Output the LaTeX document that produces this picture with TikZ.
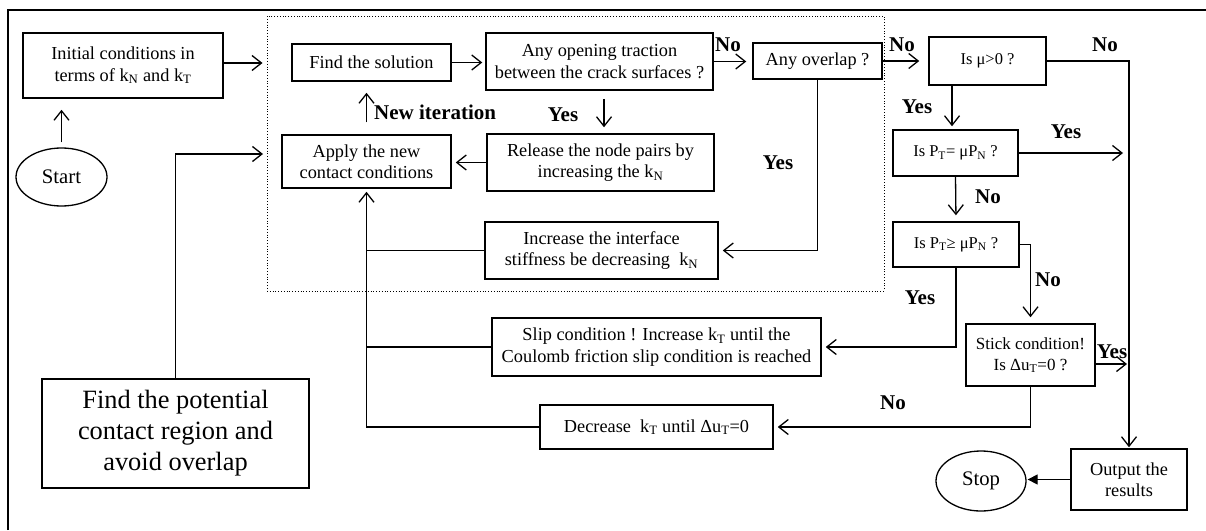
\documentclass[tikz,border=0pt]{standalone}
\usepackage{fontspec}
\setmainfont{Liberation Serif}
\usetikzlibrary{arrows.meta,shapes.geometric,calc}
\newcommand\mainfs{\fontsize{18.3}{21.5}\selectfont}
\newcommand\smallfs{\fontsize{16.5}{20}\selectfont}
\newcommand\bigfs{\fontsize{26.4}{31}\selectfont}
\newcommand\labfs{\fontsize{21}{24}\selectfont\bfseries}
\newcommand\ovfs{\fontsize{20.7}{24}\selectfont}
\begin{document}
\begin{tikzpicture}[x=1pt,y=-1pt,
  box/.style={draw, line width=1.5pt, inner sep=0pt, align=center, font=\mainfs},
  ovl/.style={draw, ellipse, line width=1.3pt, inner sep=0pt, font=\ovfs},
  arr/.style={-{Straight Barb[length=9.5pt,width=15pt]}, line width=1.3pt},
  con/.style={line width=1.3pt},
  lab/.style={font=\labfs, inner sep=0pt}]
\useasboundingbox (0,0) rectangle (1206,530);
% frame
\draw[line width=1.3pt] (8,530) -- (8,10) -- (1206,10);
% dotted loop region
\node[draw, line width=1pt, dash pattern=on 1pt off 1.8pt, inner sep=0pt,
      minimum width=617pt, minimum height=275pt] (loop) at (575.5,153.5) {};
% nodes
\node[box, minimum width=200pt, minimum height=65pt] (init) at (123,65.5)
  {Initial conditions in\\terms of k\textsubscript{N} and k\textsubscript{T}};
\node[ovl, minimum width=91pt, minimum height=58pt] (start) at (61.5,177) {Start};
\node[box, minimum width=159pt, minimum height=37pt] (find) at (371.5,62.5) {Find the solution};
\node[box, minimum width=227pt, minimum height=57pt] (open) at (599.5,61.5)
  {Any opening traction\\between the crack surfaces ?};
\node[box, minimum width=129pt, minimum height=36pt] (overlap) at (817.5,61) {Any overlap ?};
\node[box, font=\smallfs, minimum width=117pt, minimum height=48pt] (mu) at (987.5,61) {Is μ>0 ?};
\node[box, font=\smallfs, minimum width=125pt, minimum height=46pt] (pteq) at (955.5,153)
  {Is P\textsubscript{T}= μP\textsubscript{N} ?};
\node[box, font=\smallfs, minimum width=126pt, minimum height=45pt] (ptge) at (956,244.5)
  {Is P\textsubscript{T}≥ μP\textsubscript{N} ?};
\node[box, font=\fontsize{17}{21}\selectfont, minimum width=129pt, minimum height=62pt] (stick) at (1030.5,355)
  {Stick condition!\\Is Δu\textsubscript{T}=0 ?};
\node[box, minimum width=116pt, minimum height=61pt] (output) at (1129,479.5) {Output the\\results};
\node[ovl, minimum width=90pt, minimum height=60pt] (stop) at (981,481) {Stop};
\node[box, minimum width=227pt, minimum height=57pt] (release) at (600.5,162.5)
  {Release the node pairs by\\increasing the k\textsubscript{N}};
\node[box, minimum width=169pt, minimum height=53pt] (apply) at (366.5,161.5)
  {Apply the new\\contact conditions};
\node[box, minimum width=233pt, minimum height=57pt] (increase) at (601.5,250.5)
  {Increase the interface\\stiffness be decreasing~ k\textsubscript{N}};
\node[box, minimum width=329pt, minimum height=58pt] (slip) at (656.5,347)
  {Slip condition ! Increase k\textsubscript{T} until the\\Coulomb friction slip condition is reached};
\node[box, minimum width=233pt, minimum height=44pt] (decrease) at (656.5,427)
  {Decrease~ k\textsubscript{T} until Δu\textsubscript{T}=0};
\node[box, font=\bigfs, minimum width=267pt, minimum height=109pt] (potential) at (175.5,433.5)
  {Find the potential\\contact region and\\avoid overlap};
\coordinate (potin) at (267,154);
% connectors
\draw[arr, shorten <=5pt, shorten >=11pt] (start.north) -- (start.north |- init.south);
\draw[arr, shorten >=4pt] ($(init.east)+(0,-2.5)$) -- ($(init.east -| loop.west)+(0,-2.5)$);
\draw[arr, shorten >=4pt] (potential.north) |- (potin);
\draw[arr, shorten >=3pt] (find.east) -- (find.east -| open.west);
\draw[arr, shorten >=6pt] (open.east) -- (open.east -| overlap.west);
\draw[arr, shorten >=9pt] (overlap.east) -- (overlap.east -| mu.west);
\draw[arr, shorten >=1pt] (mu.east) -| (output.north);
\draw[arr, shorten >=3pt] ($(pteq.north |- mu.south)+(-3.5,0)$) -- ($(pteq.north)+(-3.5,0)$);
\draw[arr, shorten >=6pt] (pteq.east) -- (pteq.east -| output.north);
\draw[arr, shorten >=6pt] (pteq.south) -- (ptge.north);
\draw[arr, shorten >=6pt] (ptge.east) -| (stick.north);
\draw[arr, shorten >=4pt] (ptge.south) |- (slip.east);
\draw[arr, shorten >=2pt] ($(stick.east)+(-2,9)$) -- ($(stick.east -| output.north)+(0,9)$);
\draw[arr, shorten >=4pt] (stick.south) |- (decrease.east);
\draw[arr, shorten >=3pt] (decrease.west) -| (apply.south);
\draw[con] (slip.west) -- (slip.west -| apply.south);
\draw[con] (increase.west) -- (increase.west -| apply.south);
\draw[arr, shorten >=4pt] (overlap.south) |- (increase.east);
\draw[arr, shorten <=8pt, shorten >=6pt] ($(open.south)+(4.5,0)$) -- ($(release.north)+(3.5,0)$);
\draw[arr, shorten >=4pt] (release.west) -- (release.west -| apply.east);
\draw[arr, shorten <=12pt, shorten >=11pt] (apply.north) -- (apply.north |- find.south);
\draw[-{Triangle[length=10pt,width=10pt]}, line width=1.3pt, shorten >=1pt] (output.west) -- (output.west -| stop.east);
% labels
\node[lab] (l1) at (728,45) {No};
\node[lab] (l2) at (902,45) {No};
\node[lab] (l3) at (1105,45) {No};
\node[lab] (l4) at (917,107) {Yes};
\node[lab] (l5) at (1066,132) {Yes};
\node[lab] (l6) at (988,197) {No};
\node[lab] (l7) at (1048,280) {No};
\node[lab] (l8) at (920,298) {Yes};
\node[lab] (l9) at (1112,352) {Yes};
\node[lab] (l10) at (893,403) {No};
\node[lab] (l11) at (563,115) {Yes};
\node[lab] (l12) at (778,163) {Yes};
\node[lab, anchor=west] (l13) at (374,112) {New iteration};
\end{tikzpicture}
\end{document}
